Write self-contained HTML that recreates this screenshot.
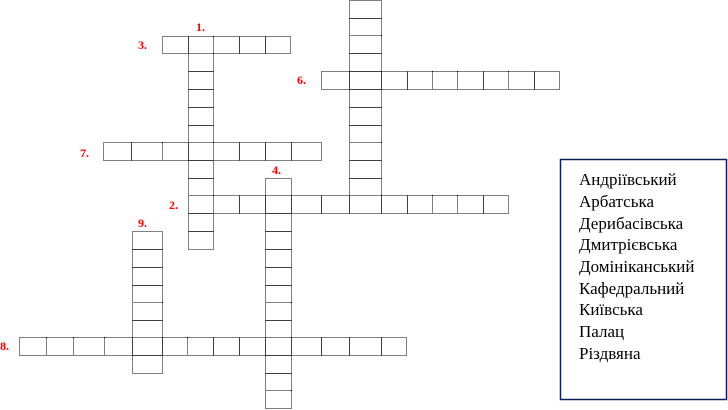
<!DOCTYPE html>
<html><head><meta charset="utf-8"><style>
html,body{margin:0;padding:0;background:#fff;width:728px;height:410px;overflow:hidden}
svg{display:block}
.c{fill:#fff;stroke:#000;stroke-width:1;stroke-dasharray:1 1}
.n{fill:#f00;font-family:"Liberation Serif",serif;font-weight:bold;font-size:12px}
.w{font-family:"Liberation Serif","DejaVu Serif",serif;font-size:17px;fill:#000}
</style></head><body>
<svg width="728" height="410" viewBox="0 0 728 410" xmlns="http://www.w3.org/2000/svg">
<g class="cells">
<!-- word 3 -->
<rect class="c" x="162.5" y="36.5" width="26" height="17"/><rect class="c" x="188.5" y="36.5" width="25" height="17"/><rect class="c" x="213.5" y="36.5" width="26" height="17"/><rect class="c" x="239.5" y="36.5" width="26" height="17"/><rect class="c" x="265.5" y="36.5" width="25" height="17"/>
<!-- col 6 vertical -->
<rect class="c" x="349.5" y="0.5" width="32" height="18"/><rect class="c" x="349.5" y="18.5" width="32" height="17"/><rect class="c" x="349.5" y="35.5" width="32" height="18"/><rect class="c" x="349.5" y="53.5" width="32" height="18"/><rect class="c" x="349.5" y="89.5" width="32" height="18"/><rect class="c" x="349.5" y="107.5" width="32" height="18"/><rect class="c" x="349.5" y="125.5" width="32" height="17"/><rect class="c" x="349.5" y="142.5" width="32" height="18"/><rect class="c" x="349.5" y="160.5" width="32" height="18"/><rect class="c" x="349.5" y="178.5" width="32" height="17"/>
<!-- word 6 -->
<rect class="c" x="321.5" y="71.5" width="28" height="18"/><rect class="c" x="349.5" y="71.5" width="32" height="18"/><rect class="c" x="381.5" y="71.5" width="26" height="18"/><rect class="c" x="407.5" y="71.5" width="25" height="18"/><rect class="c" x="432.5" y="71.5" width="25" height="18"/><rect class="c" x="457.5" y="71.5" width="26" height="18"/><rect class="c" x="483.5" y="71.5" width="25" height="18"/><rect class="c" x="508.5" y="71.5" width="26" height="18"/><rect class="c" x="534.5" y="71.5" width="25" height="18"/>
<!-- word 1 vertical -->
<rect class="c" x="188.5" y="53.5" width="25" height="18"/><rect class="c" x="188.5" y="71.5" width="25" height="18"/><rect class="c" x="188.5" y="89.5" width="25" height="18"/><rect class="c" x="188.5" y="107.5" width="25" height="18"/><rect class="c" x="188.5" y="125.5" width="25" height="17"/><rect class="c" x="188.5" y="160.5" width="25" height="18"/><rect class="c" x="188.5" y="178.5" width="25" height="17"/><rect class="c" x="188.5" y="213.5" width="25" height="18"/><rect class="c" x="188.5" y="231.5" width="25" height="18"/>
<!-- word 7 -->
<rect class="c" x="103.5" y="142.5" width="28" height="18"/><rect class="c" x="131.5" y="142.5" width="31" height="18"/><rect class="c" x="162.5" y="142.5" width="26" height="18"/><rect class="c" x="188.5" y="142.5" width="25" height="18"/><rect class="c" x="213.5" y="142.5" width="26" height="18"/><rect class="c" x="239.5" y="142.5" width="26" height="18"/><rect class="c" x="265.5" y="142.5" width="26" height="18"/><rect class="c" x="291.5" y="142.5" width="30" height="18"/>
<!-- word 4 vertical -->
<rect class="c" x="265.5" y="178.5" width="26" height="17"/><rect class="c" x="265.5" y="213.5" width="26" height="18"/><rect class="c" x="265.5" y="231.5" width="26" height="18"/><rect class="c" x="265.5" y="249.5" width="26" height="18"/><rect class="c" x="265.5" y="267.5" width="26" height="18"/><rect class="c" x="265.5" y="285.5" width="26" height="17"/><rect class="c" x="265.5" y="302.5" width="26" height="18"/><rect class="c" x="265.5" y="320.5" width="26" height="17"/><rect class="c" x="265.5" y="355.5" width="26" height="18"/><rect class="c" x="265.5" y="373.5" width="26" height="17"/><rect class="c" x="265.5" y="390.5" width="26" height="18"/>
<!-- word 2 -->
<rect class="c" x="188.5" y="195.5" width="25" height="18"/><rect class="c" x="213.5" y="195.5" width="26" height="18"/><rect class="c" x="239.5" y="195.5" width="26" height="18"/><rect class="c" x="265.5" y="195.5" width="26" height="18"/><rect class="c" x="291.5" y="195.5" width="30" height="18"/><rect class="c" x="321.5" y="195.5" width="28" height="18"/><rect class="c" x="349.5" y="195.5" width="32" height="18"/><rect class="c" x="381.5" y="195.5" width="26" height="18"/><rect class="c" x="407.5" y="195.5" width="25" height="18"/><rect class="c" x="432.5" y="195.5" width="25" height="18"/><rect class="c" x="457.5" y="195.5" width="26" height="18"/><rect class="c" x="483.5" y="195.5" width="25" height="18"/>
<!-- word 9 vertical -->
<rect class="c" x="132.5" y="231.5" width="30" height="18"/><rect class="c" x="132.5" y="249.5" width="30" height="18"/><rect class="c" x="132.5" y="267.5" width="30" height="18"/><rect class="c" x="132.5" y="285.5" width="30" height="17"/><rect class="c" x="132.5" y="302.5" width="30" height="18"/><rect class="c" x="132.5" y="320.5" width="30" height="17"/><rect class="c" x="132.5" y="355.5" width="30" height="18"/>
<!-- word 8 -->
<rect class="c" x="19.5" y="337.5" width="27" height="18"/><rect class="c" x="46.5" y="337.5" width="27" height="18"/><rect class="c" x="73.5" y="337.5" width="31" height="18"/><rect class="c" x="104.5" y="337.5" width="28" height="18"/><rect class="c" x="132.5" y="337.5" width="30" height="18"/><rect class="c" x="162.5" y="337.5" width="25" height="18"/><rect class="c" x="187.5" y="337.5" width="26" height="18"/><rect class="c" x="213.5" y="337.5" width="26" height="18"/><rect class="c" x="239.5" y="337.5" width="26" height="18"/><rect class="c" x="265.5" y="337.5" width="26" height="18"/><rect class="c" x="291.5" y="337.5" width="30" height="18"/><rect class="c" x="321.5" y="337.5" width="28" height="18"/><rect class="c" x="349.5" y="337.5" width="32" height="18"/><rect class="c" x="381.5" y="337.5" width="25" height="18"/>
</g>
<text class="n" x="196" y="31">1.</text>
<text class="n" x="138" y="49">3.</text>
<text class="n" x="297" y="84">6.</text>
<text class="n" x="80" y="157">7.</text>
<text class="n" x="169" y="209">2.</text>
<text class="n" x="272" y="174">4.</text>
<text class="n" x="138" y="227">9.</text>
<text class="n" x="0" y="350">8.</text>
<rect x="560.5" y="159.5" width="166" height="240" fill="#fff" stroke="#0a1f5c" stroke-width="1.5"/>
<text class="w" x="579" y="185">Андріївський</text>
<text class="w" x="579" y="207">Арбатська</text>
<text class="w" x="579" y="229">Дерибасівська</text>
<text class="w" x="579" y="250">Дмитрієвська</text>
<text class="w" x="579" y="272">Домініканський</text>
<text class="w" x="579" y="294">Кафедральний</text>
<text class="w" x="579" y="315">Київська</text>
<text class="w" x="579" y="337">Палац</text>
<text class="w" x="579" y="359">Різдвяна</text>
</svg>
</body></html>
